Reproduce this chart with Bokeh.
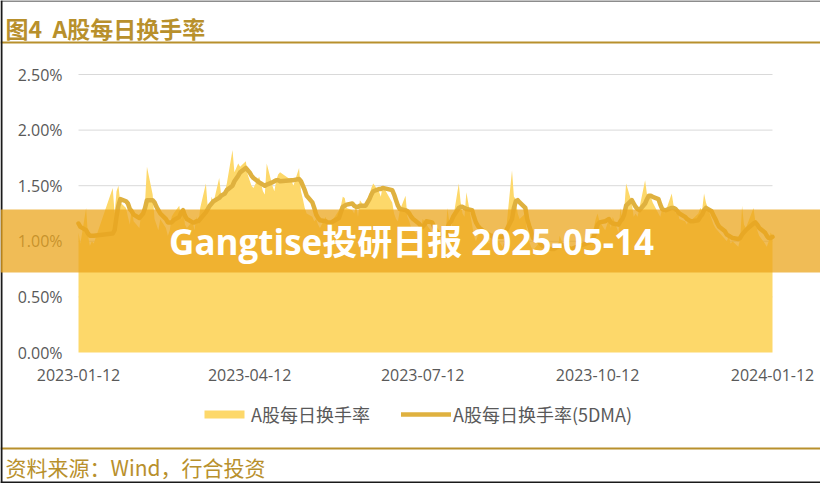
import pandas as pd
from bokeh.plotting import figure
from bokeh.models import (Range1d, FixedTicker, PrintfTickFormatter, DatetimeTickFormatter,
                          ColumnDataSource, Legend, LegendItem, Label, BoxAnnotation)
from bokeh.embed import file_html
from bokeh.resources import INLINE

# ---------------- data ----------------
start_date = "2023-01-12"
end_date = "2024-01-12"
holidays = ["2023-01-23", "2023-01-24", "2023-01-25", "2023-01-26", "2023-01-27",
            "2023-04-05", "2023-05-01", "2023-05-02", "2023-05-03",
            "2023-06-22", "2023-06-23", "2023-09-29",
            "2023-10-02", "2023-10-03", "2023-10-04", "2023-10-05", "2023-10-06",
            "2024-01-01"]
x_tick_labels = ["2023-01-12", "2023-04-12", "2023-07-12", "2023-10-12", "2024-01-12"]
y_ticks = [0.0, 0.5, 1.0, 1.5, 2.0, 2.5]
y_min, y_max = 0.0, 2.5

# daily turnover (%) by month
daily_jan23 = [1.08, 0.98, 1.30, 1.05, 0.96, 1.00, 0.98, 1.48, 1.25]
daily_feb23 = [1.45, 1.50, 1.35, 1.30, 1.22, 1.15, 1.30, 1.18, 1.12, 1.25,
               1.28, 1.35, 1.67, 1.42, 1.20, 1.15, 1.10, 1.20, 1.12, 1.05]
daily_mar23 = [1.10, 1.22, 1.25, 1.32, 1.20, 1.30, 1.15, 1.12, 1.18, 1.10,
               1.22, 1.15, 1.30, 1.52, 1.30, 1.28, 1.40, 1.35, 1.57, 1.42,
               1.40, 1.45, 1.52]
daily_apr23 = [1.82, 1.62, 1.70, 1.67, 1.72, 1.60, 1.55, 1.50, 1.48, 1.58,
               1.52, 1.45, 1.42, 1.70, 1.50, 1.45, 1.55, 1.60, 1.62]
daily_may23 = [1.55, 1.50, 1.66, 1.45, 1.38, 1.30, 1.25, 1.22, 1.18, 1.20,
               1.15, 1.12, 1.22, 1.15, 1.10, 1.18, 1.20, 1.28, 1.32, 1.40]
daily_jun23 = [1.39, 1.30, 1.28, 1.25, 1.33, 1.22, 1.37, 1.30, 1.38, 1.42,
               1.48, 1.52, 1.45, 1.40, 1.50, 1.35, 1.25, 1.20, 1.18, 1.28]
daily_jul23 = [1.41, 1.22, 1.18, 1.12, 1.10, 1.05, 1.12, 1.20, 1.18, 1.15,
               1.08, 1.10, 1.02, 1.05, 1.00, 1.04, 1.30, 1.18, 1.12, 1.20,
               1.52]
daily_aug23 = [1.35, 1.25, 1.22, 1.44, 1.15, 1.05, 1.00, 1.05, 1.10, 1.02,
               1.00, 0.98, 1.05, 1.08, 1.00, 0.98, 0.95, 1.00, 1.12, 1.64,
               1.40, 1.38, 1.25]
daily_sep23 = [1.20, 1.25, 1.05, 1.00, 0.95, 0.92, 0.98, 1.02, 0.95, 0.93,
               0.90, 0.92, 0.95, 0.98, 0.92, 1.05, 0.93, 0.90, 0.92, 0.88]
daily_oct23 = [1.05, 1.12, 1.20, 1.25, 1.18, 1.10, 1.15, 1.20, 1.12, 1.22,
               1.08, 1.30, 1.20, 1.28, 1.52, 1.35, 1.22]
daily_nov23 = [1.25, 1.22, 1.30, 1.55, 1.42, 1.38, 1.40, 1.35, 1.25, 1.22,
               1.30, 1.25, 1.28, 1.43, 1.32, 1.25, 1.28, 1.20, 1.18, 1.15,
               1.22, 1.17]
daily_dec23 = [1.20, 1.25, 1.30, 1.28, 1.43, 1.35, 1.20, 1.15, 1.12, 1.10,
               1.08, 1.02, 1.00, 1.05, 0.98, 1.00, 0.95, 1.02, 1.32, 1.15,
               1.12]
daily_jan24 = [1.30, 1.18, 1.10, 1.05, 0.98, 0.95, 1.00, 1.08, 1.05]

# 5-day moving average (%) by month
ma5_jan23 = [1.16, 1.13, 1.10, 1.07, 1.05, 1.05, 1.05, 1.07, 1.10]
ma5_feb23 = [1.22, 1.32, 1.38, 1.36, 1.34, 1.29, 1.27, 1.24, 1.21, 1.23,
             1.25, 1.30, 1.37, 1.37, 1.35, 1.31, 1.28, 1.25, 1.20, 1.17]
ma5_mar23 = [1.17, 1.17, 1.19, 1.22, 1.26, 1.28, 1.23, 1.20, 1.17, 1.17,
             1.18, 1.18, 1.20, 1.26, 1.29, 1.32, 1.34, 1.36, 1.39, 1.41,
             1.42, 1.43, 1.46]
ma5_apr23 = [1.50, 1.54, 1.59, 1.62, 1.66, 1.64, 1.62, 1.59, 1.57, 1.53,
             1.52, 1.51, 1.50, 1.51, 1.53, 1.54, 1.55, 1.55, 1.54]
ma5_may23 = [1.55, 1.55, 1.56, 1.54, 1.50, 1.46, 1.41, 1.35, 1.30, 1.24,
             1.21, 1.19, 1.18, 1.17, 1.17, 1.17, 1.18, 1.21, 1.26, 1.31]
ma5_jun23 = [1.32, 1.33, 1.34, 1.32, 1.31, 1.31, 1.32, 1.32, 1.35, 1.38,
             1.42, 1.45, 1.47, 1.47, 1.48, 1.46, 1.42, 1.37, 1.32, 1.29]
ma5_jul23 = [1.28, 1.27, 1.25, 1.22, 1.20, 1.16, 1.14, 1.13, 1.15, 1.18,
             1.17, 1.13, 1.10, 1.08, 1.06, 1.06, 1.12, 1.16, 1.18, 1.22,
             1.30]
ma5_aug23 = [1.31, 1.31, 1.30, 1.29, 1.28, 1.22, 1.17, 1.14, 1.12, 1.08,
             1.07, 1.06, 1.05, 1.04, 1.04, 1.04, 1.04, 1.06, 1.10, 1.20,
             1.30, 1.36, 1.37]
ma5_sep23 = [1.35, 1.30, 1.20, 1.14, 1.09, 1.03, 1.00, 0.98, 0.96, 0.96,
             0.94, 0.93, 0.93, 0.94, 0.95, 0.97, 0.96, 0.95, 0.94, 0.93]
ma5_oct23 = [1.00, 1.04, 1.09, 1.15, 1.17, 1.18, 1.19, 1.20, 1.17, 1.16,
             1.15, 1.18, 1.20, 1.24, 1.32, 1.37, 1.34]
ma5_nov23 = [1.31, 1.29, 1.28, 1.34, 1.38, 1.41, 1.41, 1.40, 1.38, 1.33,
             1.29, 1.28, 1.28, 1.30, 1.30, 1.29, 1.27, 1.25, 1.22, 1.20,
             1.19, 1.18]
ma5_dec23 = [1.18, 1.19, 1.22, 1.24, 1.28, 1.30, 1.27, 1.23, 1.20, 1.16,
             1.13, 1.09, 1.06, 1.05, 1.04, 1.03, 1.02, 1.03, 1.06, 1.08,
             1.10]
ma5_jan24 = [1.16, 1.17, 1.15, 1.12, 1.08, 1.05, 1.03, 1.03, 1.04]

daily = (daily_jan23 + daily_feb23 + daily_mar23 + daily_apr23 + daily_may23 + daily_jun23 +
         daily_jul23 + daily_aug23 + daily_sep23 + daily_oct23 + daily_nov23 + daily_dec23 + daily_jan24)
ma5 = (ma5_jan23 + ma5_feb23 + ma5_mar23 + ma5_apr23 + ma5_may23 + ma5_jun23 +
       ma5_jul23 + ma5_aug23 + ma5_sep23 + ma5_oct23 + ma5_nov23 + ma5_dec23 + ma5_jan24)

dates = [d for d in pd.bdate_range(start_date, end_date) if d.strftime("%Y-%m-%d") not in holidays]
n = min(len(dates), len(daily), len(ma5))
dates, daily, ma5 = dates[:n], daily[:n], ma5[:n]

src = ColumnDataSource(dict(date=dates, daily=daily, ma5=ma5))

# ---------------- styles / layout ----------------
GOLD = "#B8902C"
AREA = "#FDD86A"
LINE = "#DFB13F"
GREY = "#595959"
GRID = "#D9D9D9"
BANNER = (235, 165, 30)
CJK = "Noto Sans CJK SC"
LAT = "Open Sans"

W, H = 820, 483
FL, FR, FT, FB = 78, 772, 74, 352   # data-area edges in page pixels

t0 = pd.Timestamp(start_date).value / 1e6
t1 = pd.Timestamp(end_date).value / 1e6
# the frame fills the whole canvas; ranges are widened so the data area sits at FL..FR, FT..FB
ms_per_px = (t1 - t0) / (FR - FL)
val_per_px = (y_max - y_min) / (FB - FT)
x_range = Range1d(t0 - FL * ms_per_px, t1 + (W - FR) * ms_per_px)
y_range = Range1d(y_min - (H - FB) * val_per_px, y_max + FT * val_per_px)

p = figure(width=W, height=H, x_axis_type="datetime", output_backend="svg",
           toolbar_location=None, tools="", x_range=x_range, y_range=y_range,
           min_border=0)
p.title.visible = False
p.outline_line_color = None
p.background_fill_color = "white"
p.border_fill_color = "white"
p.grid.visible = False

# horizontal gridlines limited to the data area
p.segment(x0=[t0] * (len(y_ticks) - 1), x1=[t1] * (len(y_ticks) - 1),
          y0=y_ticks[1:], y1=y_ticks[1:], line_color=GRID, line_width=1)

area = p.varea(x="date", y1=0, y2="daily", source=src, fill_color=AREA, fill_alpha=1.0)
line = p.line(x="date", y="ma5", source=src, line_color=LINE, line_width=4.5,
              line_join="round", line_cap="round")

# axes pinned to the data-area edges
p.xaxis.fixed_location = y_min
p.yaxis.fixed_location = t0
p.yaxis.ticker = FixedTicker(ticks=y_ticks)
p.yaxis.formatter = PrintfTickFormatter(format="%.2f%%")
p.xaxis.ticker = FixedTicker(ticks=[pd.Timestamp(t).value / 1e6 for t in x_tick_labels])
p.xaxis.formatter = DatetimeTickFormatter(days="%Y-%m-%d", months="%Y-%m-%d", years="%Y-%m-%d",
                                          hours="%Y-%m-%d", minutes="%Y-%m-%d")
for ax in (p.xaxis[0], p.yaxis[0]):
    ax.axis_line_color = None
    ax.major_tick_line_color = None
    ax.minor_tick_line_color = None
    ax.major_tick_out = 0
    ax.minor_tick_out = 0
    ax.major_tick_in = 0
    ax.major_label_text_font = LAT
    ax.major_label_text_font_size = "16px"
    ax.major_label_text_color = GREY
p.yaxis.major_label_standoff = 16
p.xaxis.major_label_standoff = 16


def sy(py):  # page y (from top) -> screen y (from bottom of frame)
    return H - py


def box(top, bottom, color, alpha=1.0, level="annotation", left=0, right=W):
    return BoxAnnotation(left=left, right=right, top=sy(top), bottom=sy(bottom),
                         left_units="screen", right_units="screen",
                         top_units="screen", bottom_units="screen",
                         fill_color=color, fill_alpha=alpha, line_color=None, level=level)


# header
p.add_layout(Label(x=5, y=sy(27), x_units="screen", y_units="screen",
                   text="图4 \u00a0A股每日换手率", text_font=CJK, text_font_size="23px",
                   text_font_style="bold", text_color=GOLD, text_baseline="middle",
                   text_align="left"))
p.add_layout(box(41, 43, GOLD))

# legend
legend = Legend(items=[LegendItem(label="A股每日换手率", renderers=[area]),
                       LegendItem(label="A股每日换手率(5DMA)", renderers=[line])],
                location=(199, sy(427)), orientation="horizontal",
                glyph_width=50, glyph_height=10, label_standoff=2, spacing=31,
                padding=0, margin=0, border_line_color=None, background_fill_alpha=0,
                label_text_font=CJK, label_text_font_size="18px", label_text_color=GREY)
p.add_layout(legend, "center")

# footer
p.add_layout(box(447, 449, GOLD))
p.add_layout(Label(x=5, y=sy(466), x_units="screen", y_units="screen",
                   text="资料来源：Wind，行合投资", text_font=CJK, text_font_size="21px",
                   text_color=GOLD, text_baseline="middle", text_align="left"))

# thin dark frame on the left, top and bottom edges of the picture
p.add_layout(box(0, H, "#1A1A1A", left=0, right=2))
p.add_layout(box(0, 1, "#1A1A1A"))
p.add_layout(box(481, H, "#1A1A1A"))

# watermark banner and its text
p.add_layout(box(209, 272, BANNER, 0.75, level="overlay"))
p.add_layout(Label(x=411, y=sy(241), x_units="screen", y_units="screen",
                   text="Gangtise投研日报 2025-05-14", text_font="'Open Sans', 'Noto Sans CJK SC'",
                   text_font_size="35px", text_font_style="bold", text_color="white",
                   text_align="center", text_baseline="middle", level="overlay"))

open("out.html", "w").write(file_html(p, INLINE))
